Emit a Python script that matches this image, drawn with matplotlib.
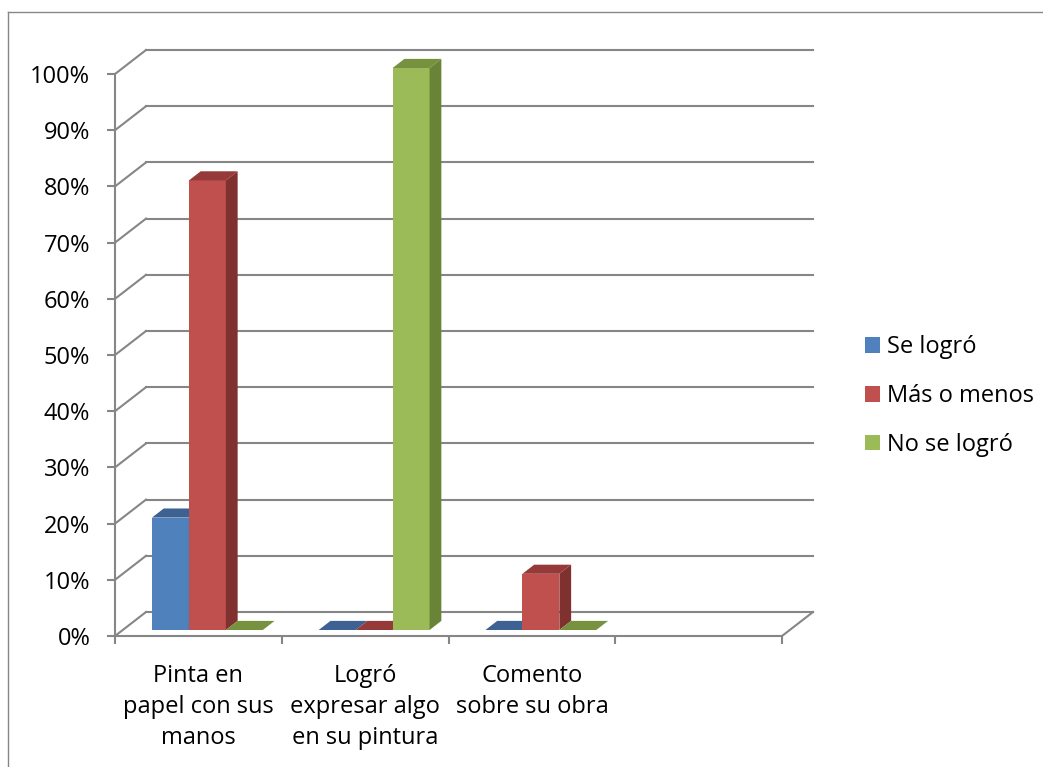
import matplotlib
matplotlib.use('Agg')
import matplotlib.pyplot as plt
from matplotlib.patches import Polygon, Patch
from matplotlib.lines import Line2D
import numpy as np

plt.rcParams['font.family'] = ['Open Sans', 'DejaVu Sans']

# Category labels (the fourth slot is empty) and series values in percent
categories = ['Pinta en\npapel con sus\nmanos', 'Logró\nexpresar algo\nen su pintura', 'Comento\nsobre su obra', '']
series_names = ['Se logró', 'Más o menos', 'No se logró']
se_logro = [20, 0, 0, 0]
mas_o_menos = [80, 0, 10, 0]
no_se_logro = [0, 100, 0, 0]
y_ticks = [0, 10, 20, 30, 40, 50, 60, 70, 80, 90, 100]
y_tick_labels = ['0%', '10%', '20%', '30%', '40%', '50%', '60%', '70%', '80%', '90%', '100%']

front_colors = ['#4F81BD', '#C0504D', '#9BBB59']
top_colors = ['#3C6192', '#953A38', '#77923F']
side_colors = ['#385D8A', '#7E312F', '#6A8437']
grid_color = '#868686'

W, H = 1043, 767
fig = plt.figure(figsize=(W / 100, H / 100), dpi=100)
# front plane of the 3-D box
ax = fig.add_axes([115 / W, (H - 636) / H, (782 - 115) / W, (636 - 74) / H])
ax.set_xlim(0, 4)
ax.set_ylim(0, 100)
ax.patch.set_visible(False)

# oblique depth of the box (data units) and where the bars sit inside it
DX, DY = 0.186, 4.27
d_front, d_back = 0.25, 0.63
bar_w = 0.2216
group_left = 0.2216 - d_front * DX

lw = 1.5
# back wall gridlines and left wall diagonals
for t in y_ticks:
    ax.plot([DX, 4 + DX], [t + DY, t + DY], color=grid_color, lw=lw, clip_on=False, zorder=1)
    ax.plot([0, DX], [t, t + DY], color=grid_color, lw=lw, clip_on=False, zorder=1)
# floor edge on the right
ax.plot([4, 4 + DX], [0, DY], color=grid_color, lw=lw, clip_on=False, zorder=1)

# bars: front face, top and right side
all_series = [se_logro, mas_o_menos, no_se_logro]
x_cat = np.arange(len(categories))
for k, vals in enumerate(all_series):
    xl = x_cat + group_left + k * bar_w + d_front * DX
    ax.bar(xl, vals, width=bar_w, bottom=d_front * DY, align='edge',
           color=front_colors[k], linewidth=0, zorder=3 + k, clip_on=False)
    for x0, v in zip(xl, vals):
        if v == 0 and x0 > 3:
            continue
        x1 = x0 + bar_w
        ddx, ddy = (d_back - d_front) * DX, (d_back - d_front) * DY
        ytop = v + d_front * DY
        top = Polygon([(x0, ytop), (x1, ytop), (x1 + ddx, ytop + ddy), (x0 + ddx, ytop + ddy)],
                      closed=True, facecolor=top_colors[k], edgecolor='none',
                      zorder=3 + k, clip_on=False)
        ax.add_patch(top)
        if v > 0:
            side = Polygon([(x1, d_front * DY), (x1 + ddx, d_front * DY + ddy),
                            (x1 + ddx, ytop + ddy), (x1, ytop)],
                           closed=True, facecolor=side_colors[k], edgecolor='none',
                           zorder=3 + k, clip_on=False)
            ax.add_patch(side)

# axes spines = front edges of the box
for s in ['top', 'right']:
    ax.spines[s].set_visible(False)
for s in ['left', 'bottom']:
    ax.spines[s].set_color(grid_color)
    ax.spines[s].set_linewidth(lw)
    ax.spines[s].set_zorder(2)

fs = 17
ax.set_yticks(y_ticks)
ax.set_yticklabels(y_tick_labels)
ax.tick_params(axis='y', length=5.8, width=lw, color=grid_color, pad=12, labelsize=fs)

ax.set_xticks([0, 1, 2, 3, 4])
ax.set_xticklabels([])
ax.set_xticks(x_cat + 0.5, minor=True)
ax.set_xticklabels(categories, minor=True, linespacing=1.4)
ax.tick_params(axis='x', which='major', length=5.8, width=lw, color=grid_color)
ax.tick_params(axis='x', which='minor', length=0, pad=20, labelsize=fs)

handles = [Patch(facecolor=c, edgecolor='none') for c in front_colors]
fig.legend(handles, series_names, loc='center left',
           bbox_to_anchor=(865 / W, 1 - 396 / H), frameon=False, fontsize=fs,
           handlelength=0.64, handleheight=0.64, handletextpad=0.3,
           labelspacing=1.05, borderpad=0, borderaxespad=0)

# chart area border (top and left edges)
fig.add_artist(Line2D([8 / W, 1], [1 - 12 / H, 1 - 12 / H], color='#878787', lw=1))
fig.add_artist(Line2D([8 / W, 8 / W], [0, 1 - 12 / H], color='#878787', lw=1))

fig.savefig('out.png', dpi=100)
